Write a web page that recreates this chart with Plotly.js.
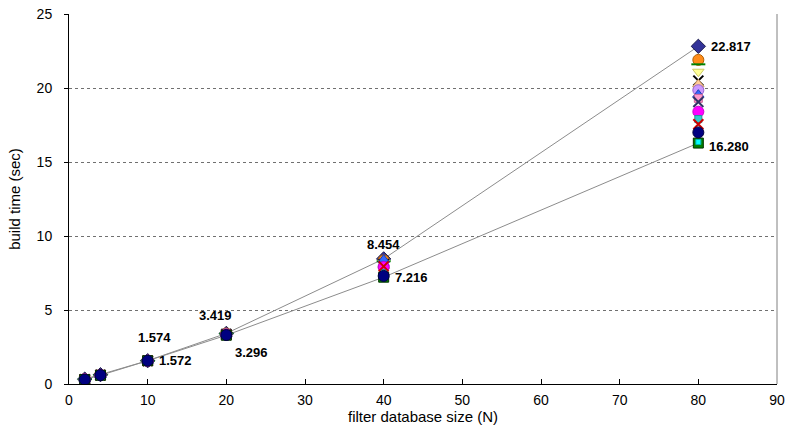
<!DOCTYPE html>
<html>
<head>
<meta charset="utf-8">
<script src="https://cdn.plot.ly/plotly-3.0.1.min.js"></script>
<style>
  html, body { margin: 0; padding: 0; background: #fff; }
  #chart { width: 785px; height: 445px; }
</style>
</head>
<body>
<div id="chart"></div>
<script>
// filter database sizes (N)
const sizes = [2, 4, 10, 20, 40, 80];

// build times (sec) per run, one array per series
const runA = [0.33, 0.63, 1.574, 3.419, 8.454, 22.817];
const runB = [0.32, 0.62, 1.573, 3.41, 8.35, 21.90];
const runC = [0.32, 0.62, 1.573, 3.40, 8.30, 21.60];
const runD = [0.32, 0.61, 1.573, 3.39, 8.20, 21.10];
const runE = [0.31, 0.61, 1.573, 3.38, 8.10, 20.50];
const runF = [0.31, 0.61, 1.573, 3.37, 8.00, 20.25];
const runG = [0.31, 0.61, 1.573, 3.36, 7.95, 19.85];
const runH = [0.31, 0.60, 1.573, 3.36, 8.40, 19.55];
const runI = [0.31, 0.60, 1.573, 3.35, 7.80, 19.30];
const runJ = [0.31, 0.60, 1.573, 3.34, 7.70, 19.05];
const runK = [0.31, 0.60, 1.573, 3.34, 7.90, 18.40];
const runL = [0.30, 0.60, 1.573, 3.33, 7.50, 17.90];
const runM = [0.30, 0.60, 1.572, 3.32, 7.95, 17.55];
const runO = [0.30, 0.59, 1.572, 3.296, 7.216, 16.280];
const runP = [0.30, 0.59, 1.572, 3.30, 7.25, 16.35];
const runN = [0.30, 0.60, 1.572, 3.31, 7.30, 17.00];

const runs = [runA, runB, runC, runD, runE, runF, runG, runH,
              runI, runJ, runK, runL, runM, runO, runP, runN];

// marker styles, in the same order as runs
const markerStyles = [
  {symbol: 'diamond', color: '#333399', line: '#1a1a4d', size: 11},
  {symbol: 'circle', color: '#FF8C1A', line: '#b35f00', size: 11},
  {symbol: 'line-ew', color: '#008000', line: '#008000', size: 10},
  {symbol: 'triangle-down', color: '#FFFF99', line: '#cccc66', size: 10},
  {symbol: 'x-thin', color: '#000000', line: '#000000', size: 10},
  {symbol: 'triangle-up', color: '#FFCC99', line: '#cc9966', size: 10},
  {symbol: 'circle', color: '#CC99FF', line: '#9966cc', size: 11},
  {symbol: 'triangle-up', color: '#3366FF', line: '#1a40b3', size: 10},
  {symbol: 'square', color: '#FF99CC', line: '#cc6699', size: 8},
  {symbol: 'x-thin', color: '#333366', line: '#333366', size: 10},
  {symbol: 'circle', color: '#FF00FF', line: '#cc00cc', size: 11},
  {symbol: 'square', color: '#33CCCC', line: '#1a9999', size: 7},
  {symbol: 'x-thin', color: '#CC0000', line: '#CC0000', size: 10},
  {symbol: 'square', color: '#008000', line: '#003300', size: 10},
  {symbol: 'square', color: '#00FFFF', line: '#00b3b3', size: 5},
  {symbol: 'circle', color: '#000080', line: '#000040', size: 11}
];

// upper and lower envelopes across all runs
const maxTimes = sizes.map((_, i) => Math.max(...runs.map(r => r[i])));
const minTimes = sizes.map((_, i) => Math.min(...runs.map(r => r[i])));

const traces = [
  {x: sizes, y: maxTimes, mode: 'lines', line: {color: '#8c8c8c', width: 1}, hoverinfo: 'skip'},
  {x: sizes, y: minTimes, mode: 'lines', line: {color: '#8c8c8c', width: 1}, hoverinfo: 'skip'}
];
runs.forEach((r, k) => {
  const s = markerStyles[k];
  const stroke = s.symbol.indexOf('x') === 0 || s.symbol.indexOf('line') === 0;
  traces.push({
    x: sizes, y: r, mode: 'markers',
    marker: {symbol: s.symbol, size: s.size, color: s.color,
             line: {color: s.line, width: stroke ? 2 : 1}}
  });
});

// value labels on the envelopes (sizes 10, 20, 40, 80)
const labelFont = {family: 'Arial, "Liberation Sans", sans-serif', size: 13, color: '#000', weight: 'bold'};
const maxOffsets = {10: [7, 23, 'center'], 20: [-11, 18, 'center'], 40: [0, 14, 'center'], 80: [11, 0, 'left']};
const minOffsets = {10: [9, 0, 'left'], 20: [7, -17, 'left'], 40: [9, 0, 'left'], 80: [9, -3, 'left']};
const annotations = [];
sizes.forEach((n, i) => {
  if (maxOffsets[n]) {
    const o = maxOffsets[n];
    annotations.push({x: n, y: maxTimes[i], xref: 'x', yref: 'y', text: '<b>' + maxTimes[i].toFixed(3) + '</b>',
      showarrow: false, xanchor: o[2], yanchor: 'middle', xshift: o[0], yshift: o[1], font: labelFont});
  }
  if (minOffsets[n]) {
    const o = minOffsets[n];
    annotations.push({x: n, y: minTimes[i], xref: 'x', yref: 'y', text: '<b>' + minTimes[i].toFixed(3) + '</b>',
      showarrow: false, xanchor: o[2], yanchor: 'middle', xshift: o[0], yshift: o[1], font: labelFont});
  }
});

const tickFont = {family: 'Arial, "Liberation Sans", sans-serif', size: 14, color: '#000'};
const titleFont = {family: 'Arial, "Liberation Sans", sans-serif', size: 15, color: '#000'};

const layout = {
  width: 785, height: 445,
  margin: {l: 69, r: 8, t: 14, b: 61},
  paper_bgcolor: '#fff', plot_bgcolor: '#fff',
  showlegend: false,
  font: tickFont,
  xaxis: {
    range: [0, 90], dtick: 10, tick0: 0,
    showgrid: false, zeroline: false,
    showline: true, linecolor: '#000', linewidth: 1,
    ticks: 'inside', ticklen: 5, tickcolor: '#000',
    tickfont: tickFont, ticklabelstandoff: 3,
    title: {text: 'filter database size (N)', font: titleFont, standoff: 0}
  },
  yaxis: {
    range: [0, 25], dtick: 5, tick0: 0,
    showgrid: true, gridcolor: '#707070', griddash: 'dot', gridwidth: 1,
    zeroline: false,
    showline: true, linecolor: '#000', linewidth: 1,
    ticks: 'outside', ticklen: 4, tickcolor: '#000',
    tickfont: tickFont, ticklabelstandoff: 9,
    title: {text: 'build time (sec)', font: titleFont, standoff: 12}
  },
  shapes: [
    {type: 'line', xref: 'paper', yref: 'paper', x0: 1, x1: 1, y0: 0, y1: 1,
     line: {color: '#808080', width: 1}}
  ],
  annotations: annotations
};

Plotly.newPlot('chart', traces, layout, {displayModeBar: false, staticPlot: true});
</script>
</body>
</html>
